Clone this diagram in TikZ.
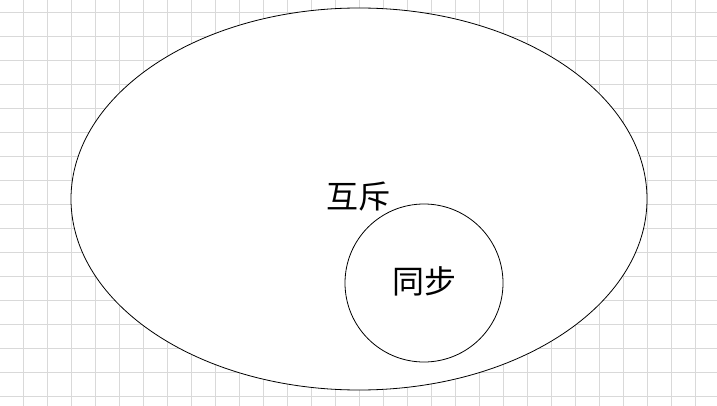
\documentclass[tikz,border=0pt]{standalone}
\usepackage{fontspec}
\newfontfamily\cjk{Noto Sans CJK SC}
\usetikzlibrary{positioning, shapes.geometric}

\tikzset{
  gridline/.style={black!15, line width=0.6pt},
  setshape/.style={draw, fill=white, line width=0.8pt, inner sep=0pt},
  setlabel/.style={font=\cjk\fontsize{32}{36}\selectfont, inner sep=0pt}
}

\begin{document}
\begin{tikzpicture}[x=1pt, y=1pt]
    \useasboundingbox (0, 0) rectangle (717, 405);
    \fill[white] (0, 0) rectangle (717, 405);
    \begin{scope}[shift={(23.5, 9)}]
        \draw[gridline, step=24pt] (-48, -48) grid (720, 420);
    \end{scope}

    \node[setshape, ellipse, minimum width=576pt, minimum height=382pt] (mutex) at (359, 206) {};
    \node[setshape, circle, minimum size=158pt] (sync) at (424, 122) {};

    \node[setlabel] (mutexlabel) at (358, 208) {互斥};
    \node[setlabel] (synclabel) at (424.5, 124) {同步};
\end{tikzpicture}
\end{document}
